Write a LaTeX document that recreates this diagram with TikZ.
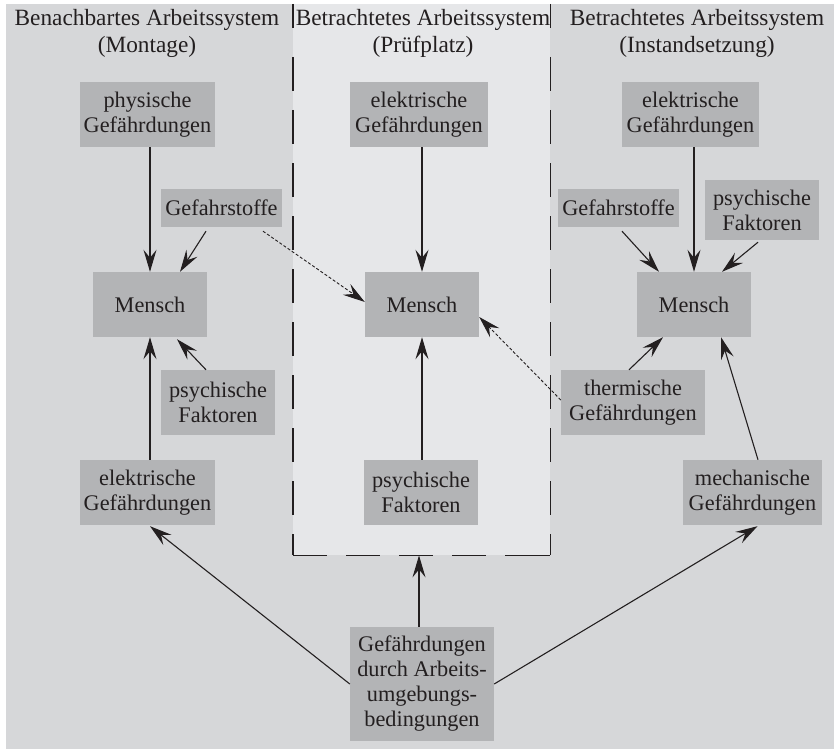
\documentclass[tikz,border=0pt]{standalone}
\usepackage{fontspec}
\setmainfont{Liberation Serif}
\usetikzlibrary{arrows.meta,calc}
\definecolor{bgout}{HTML}{D6D7D9}
\definecolor{bgmid}{HTML}{E6E7E9}
\definecolor{boxc}{HTML}{B3B4B6}
\definecolor{ink}{HTML}{231F20}
\begin{document}
\begin{tikzpicture}[x=1pt,y=-1pt,
  box/.style={fill=boxc, inner sep=0pt, align=center, text=ink,
    font=\fontsize{22.3}{25}\selectfont},
  hdr/.style={inner sep=0pt, align=center, text=ink,
    font=\fontsize{23.3}{27}\selectfont},
  arr/.style={-{Stealth[length=22pt,width=13pt,inset=8pt]}, line width=1.1pt, draw=ink},
  darr/.style={arr, line width=0.9pt, dash pattern=on 3pt off 2pt},
  border/.style={line width=1.2pt, draw=ink},
  bdash/.style={border, dash pattern=on 34pt off 19pt}]
\useasboundingbox (0,0) rectangle (834,749);
\fill[bgout] (6,4) rectangle (834,749);
\node[fill=bgmid, inner sep=0pt, minimum width=257pt, minimum height=551pt, anchor=north west] (midbox) at (293,4) {};
% border of the middle system
\draw[border] (midbox.north west) -- ++(0,24);
\draw[bdash] ([yshift=-53pt]midbox.north west) -- (midbox.south west);
\draw[border] (midbox.north east) -- ++(0,24);
\draw[bdash] ([yshift=-53pt]midbox.north east) -- (midbox.south east);
\draw[bdash] (midbox.south west) -- (midbox.south east);
\draw[border] ([xshift=-11pt]midbox.south east) -- (midbox.south east);
% headers
\node[hdr] (hL) at (147,33) {Benachbartes Arbeitssystem\\(Montage)};
\node[hdr] (hM) at (423,33) {Betrachtetes Arbeitssystem\\(Prüfplatz)};
\node[hdr] (hR) at (697,33) {Betrachtetes Arbeitssystem\\(Instandsetzung)};
% left column
\node[box, minimum width=135pt, minimum height=65pt] (pL) at (147.5,114.5) {physische\\Gefährdungen};
\node[box, minimum width=121pt, minimum height=38pt] (gL) at (221.5,208) {Gefahrstoffe};
\node[box, minimum width=114pt, minimum height=65pt] (mL) at (150,304.5) {Mensch};
\node[box, minimum width=114pt, minimum height=65pt] (fL) at (218,402.5) {psychische\\Faktoren};
\node[box, minimum width=135pt, minimum height=65pt] (eL) at (147.5,492.5) {elektrische\\Gefährdungen};
% middle column
\node[box, minimum width=138pt, minimum height=65pt] (eM) at (419,114.5) {elektrische\\Gefährdungen};
\node[box, minimum width=114pt, minimum height=65pt] (mM) at (422,304.5) {Mensch};
\node[box, minimum width=114pt, minimum height=65pt] (fM) at (421,492.5) {psychische\\Faktoren};
% right column
\node[box, minimum width=137pt, minimum height=65pt] (eR) at (690.5,114.5) {elektrische\\Gefährdungen};
\node[box, minimum width=121pt, minimum height=38pt] (gR) at (618.5,208) {Gefahrstoffe};
\node[box, minimum width=114pt, minimum height=60pt] (fR) at (762,210) {psychische\\Faktoren};
\node[box, minimum width=114pt, minimum height=65pt] (mR) at (694,304.5) {Mensch};
\node[box, minimum width=144pt, minimum height=65pt] (tR) at (633,402.5) {thermische\\Gefährdungen};
\node[box, minimum width=139pt, minimum height=65pt] (kR) at (752.5,492.5) {mechanische\\Gefährdungen};
% bottom
\node[box, minimum width=144pt, minimum height=114pt] (bB) at (422,684) {Gefährdungen\\durch Arbeits-\\umgebungs-\\bedingungen};
% arrows left
\draw[arr] (mL.north |- pL.south) -- (mL.north);
\draw[arr] ([shift={(-15.5,4)}]gL.south) -- ([xshift=30pt]mL.north);
\draw[arr] ([xshift=-12pt]fL.north) -- ([shift={(27,2)}]mL.south);
\draw[arr] (mL.south |- eL.north) -- (mL.south);
% arrows middle
\draw[arr] (mM.north |- eM.south) -- (mM.north);
\draw[arr] (mM.south |- fM.north) -- (mM.south);
\draw[darr] ([shift={(41.5,4)}]gL.south) -- ([yshift=2.5pt]mM.west);
\draw[darr] ([yshift=2.5pt]tR.west) -- ([yshift=-12.5pt]mM.east);
% arrows right
\draw[arr] (mR.north |- eR.south) -- (mR.north);
\draw[arr] ([shift={(3.5,4)}]gR.south) -- ([xshift=-35pt]mR.north);
\draw[arr] ([shift={(-4,2)}]fR.south) -- ([xshift=28pt]mR.north);
\draw[arr] ([xshift=-4pt]tR.north) -- ([xshift=-31pt]mR.south);
\draw[arr] ([xshift=5.5pt]kR.north) -- ([xshift=27pt]mR.south);
% arrows bottom
\draw[arr] ([xshift=-3pt]bB.north) -- ([xshift=-3pt]bB.north |- midbox.south);
\draw[arr] (bB.west) -- ([shift={(2.5,1)}]eL.south);
\draw[arr] (bB.east) -- ([shift={(5,1)}]kR.south);
\end{tikzpicture}
\end{document}
